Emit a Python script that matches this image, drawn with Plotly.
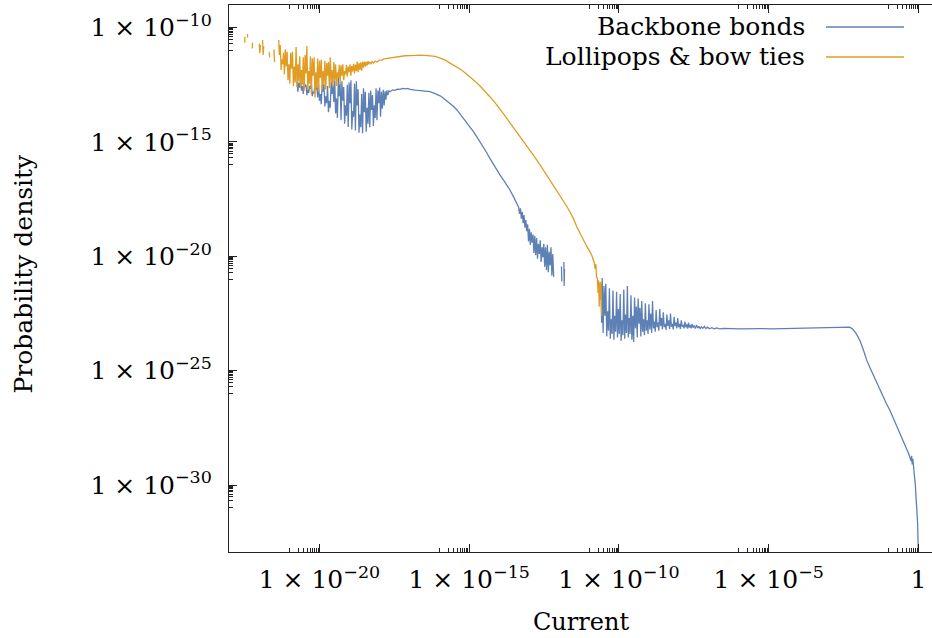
import plotly.graph_objects as go

# ---- data: (log10 current, log10 probability density), None = gap in the data ----
backbone_points = [
    (-20.75, -12.35), (-20.72, -12.80), (-20.69, -12.40), (-20.66, -12.62), (-20.63, -12.30), (-20.60, -12.75),
    (-20.57, -12.55), (-20.54, -12.90), (-20.51, -12.38), (-20.48, -12.60), (-20.45, -12.50), (-20.42, -12.95),
    (-20.39, -12.70), (-20.36, -12.85), (-20.33, -12.55), (-20.30, -12.68), (-20.27, -12.45), (-20.24, -13.00),
    (-20.21, -12.80), (-20.18, -12.88), (-20.15, -12.42), (-20.12, -12.70), (-20.09, -12.55), (-20.06, -13.05),
    (-20.03, -12.48), (-20.00, -13.20), (-19.97, -12.90), (-19.94, -13.35), (-19.91, -12.50), (-19.88, -12.80),
    (-19.85, -12.45), (-19.82, -13.45), (-19.79, -13.00), (-19.76, -13.30), (-19.73, -12.55), (-19.70, -13.70),
    (-19.67, -13.20), (-19.64, -13.50), (-19.61, -12.35), (-19.58, -12.90), (-19.55, -12.50), (-19.52, -13.25),
    (-19.49, -12.30), (-19.46, -13.75), (-19.43, -13.10), (-19.40, -13.95), (-19.37, -12.20), (-19.34, -13.00),
    (-19.31, -12.45), (-19.28, -14.05), (-19.25, -12.35), (-19.22, -13.20), (-19.19, -12.60), (-19.16, -14.20),
    (-19.13, -13.40), (-19.10, -13.85), (-19.07, -12.50), (-19.04, -14.35), (-19.01, -12.40), (-18.98, -13.30),
    (-18.95, -12.30), (-18.92, -14.45), (-18.89, -13.65), (-18.86, -13.90), (-18.83, -12.45), (-18.80, -14.50),
    (-18.77, -12.35), (-18.74, -13.40), (-18.71, -12.70), (-18.68, -14.60), (-18.65, -13.80), (-18.62, -14.35),
    (-18.59, -12.90), (-18.56, -14.62), (-18.53, -12.65), (-18.50, -13.70), (-18.47, -12.80), (-18.44, -14.55),
    (-18.41, -13.50), (-18.38, -14.20), (-18.35, -12.85), (-18.32, -14.35), (-18.29, -12.75), (-18.26, -13.60),
    (-18.23, -12.95), (-18.20, -14.30), (-18.17, -13.40), (-18.14, -13.95), (-18.11, -12.65), (-18.08, -14.05),
    (-18.05, -12.75), (-18.02, -13.30), (-17.99, -12.62), (-17.96, -13.90), (-17.93, -12.80), (-17.90, -13.55),
    (-17.87, -12.72), (-17.84, -13.40), (-17.81, -12.78), (-17.78, -13.15), (-17.75, -12.74), (-17.72, -12.95),
    (-17.68, -12.76), (-17.64, -12.80), (-17.56, -12.72), (-17.48, -12.74), (-17.40, -12.69), (-17.31, -12.70),
    (-17.22, -12.66), (-17.14, -12.68), (-17.06, -12.66), (-16.97, -12.70), (-16.80, -12.73), (-16.64, -12.75),
    (-16.47, -12.77), (-16.31, -12.80), (-16.20, -12.85), (-16.08, -12.90), (-15.97, -12.98), (-15.86, -13.09),
    (-15.75, -13.20), (-15.64, -13.31), (-15.52, -13.45), (-15.41, -13.60), (-15.30, -13.78), (-15.19, -13.97),
    (-15.08, -14.15), (-14.97, -14.33), (-14.86, -14.55), (-14.75, -14.77), (-14.64, -14.99), (-14.53, -15.21),
    (-14.42, -15.46), (-14.31, -15.72), (-14.20, -15.97), (-14.08, -16.23), (-13.97, -16.45), (-13.86, -16.66),
    (-13.75, -16.88), (-13.64, -17.10), (-13.52, -17.40), (-13.41, -17.68),
    (-13.35, -17.85), (-13.32, -18.15), (-13.29, -17.90), (-13.26, -18.35), (-13.23, -18.05), (-13.20, -18.55),
    (-13.17, -18.20), (-13.14, -18.75), (-13.11, -18.40), (-13.08, -18.90), (-13.05, -18.60), (-13.02, -19.35),
    (-12.99, -18.80), (-12.96, -19.50), (-12.93, -18.95), (-12.90, -19.40), (-12.87, -19.05), (-12.84, -19.85),
    (-12.81, -19.10), (-12.78, -19.95), (-12.75, -19.20), (-12.72, -20.10), (-12.69, -19.45), (-12.66, -19.90),
    (-12.63, -19.30), (-12.60, -20.25), (-12.57, -19.60), (-12.54, -20.05), (-12.51, -19.45), (-12.48, -20.45),
    (-12.45, -19.60), (-12.42, -20.60), (-12.39, -19.50), (-12.36, -20.70), (-12.33, -19.80), (-12.30, -20.40),
    (-12.27, -19.60), (-12.24, -20.85), (-12.21, -19.90), (-12.18, -20.90), None,
    (-11.92, -20.45), (-11.91, -21.10), None,
    (-11.84, -20.25), (-11.83, -21.30), (-11.82, -20.55), None,
    (-10.60, -21.20), (-10.58, -22.90), (-10.56, -20.95), (-10.53, -23.35), (-10.50, -21.30), (-10.47, -22.60),
    (-10.44, -21.20), (-10.41, -23.50), (-10.38, -22.40), (-10.35, -23.25), (-10.32, -21.40), (-10.29, -23.60),
    (-10.26, -22.75), (-10.23, -23.40), (-10.20, -21.50), (-10.17, -23.65), (-10.14, -22.60), (-10.11, -23.30),
    (-10.08, -21.55), (-10.05, -23.55), (-10.02, -22.30), (-9.99, -23.40), (-9.96, -21.65), (-9.93, -23.70),
    (-9.90, -22.80), (-9.87, -23.45), (-9.84, -21.45), (-9.81, -23.60), (-9.78, -22.55), (-9.75, -23.35),
    (-9.72, -21.30), (-9.69, -23.55), (-9.66, -22.70), (-9.63, -23.40), (-9.60, -21.70), (-9.57, -23.65),
    (-9.54, -22.60), (-9.51, -23.75), (-9.48, -21.80), (-9.45, -23.15), (-9.42, -22.20), (-9.39, -23.55),
    (-9.36, -21.85), (-9.33, -22.95), (-9.30, -22.25), (-9.27, -23.50), (-9.24, -21.95), (-9.21, -23.30),
    (-9.18, -22.75), (-9.15, -23.45), (-9.12, -22.05), (-9.09, -23.25), (-9.06, -22.80), (-9.03, -23.40),
    (-9.00, -22.10), (-8.97, -23.20), (-8.94, -22.50), (-8.91, -23.35), (-8.88, -21.95), (-8.85, -23.15),
    (-8.82, -22.85), (-8.79, -23.30), (-8.76, -22.35), (-8.73, -23.10), (-8.70, -22.90), (-8.67, -23.25),
    (-8.64, -22.30), (-8.61, -23.05), (-8.58, -22.70), (-8.55, -23.20), (-8.52, -22.45), (-8.49, -23.10),
    (-8.46, -22.95), (-8.43, -23.22), (-8.40, -22.55), (-8.37, -23.05), (-8.34, -22.80), (-8.31, -23.18),
    (-8.28, -22.50), (-8.25, -23.08), (-8.22, -22.95), (-8.19, -23.20), (-8.16, -22.65), (-8.13, -23.05),
    (-8.10, -22.90), (-8.07, -23.15), (-8.04, -22.70), (-8.01, -23.10), (-7.98, -22.95), (-7.95, -23.18),
    (-7.92, -22.80), (-7.89, -23.08), (-7.86, -23.00), (-7.83, -23.15), (-7.80, -22.85), (-7.77, -23.10),
    (-7.74, -22.98), (-7.71, -23.16), (-7.68, -22.90), (-7.65, -23.12), (-7.62, -23.00), (-7.59, -23.15),
    (-7.56, -22.95), (-7.53, -23.12), (-7.49, -23.03), (-7.45, -23.16), (-7.41, -23.00), (-7.37, -23.14),
    (-7.33, -23.06), (-7.29, -23.17), (-7.25, -23.08), (-7.20, -23.15), (-7.15, -23.06), (-7.10, -23.16),
    (-7.04, -23.10), (-6.98, -23.17), (-6.90, -23.12), (-6.82, -23.17), (-6.74, -23.13), (-6.64, -23.17),
    (-6.50, -23.15), (-6.35, -23.17), (-6.20, -23.16), (-6.00, -23.17), (-5.80, -23.16), (-5.50, -23.17),
    (-5.20, -23.16), (-4.90, -23.17), (-4.60, -23.16), (-4.30, -23.16), (-4.00, -23.15), (-3.70, -23.15),
    (-3.40, -23.14), (-3.10, -23.13), (-2.80, -23.12), (-2.55, -23.11), (-2.40, -23.10), (-2.30, -23.10),
    (-2.22, -23.16), (-2.12, -23.30), (-2.03, -23.50), (-1.95, -23.70), (-1.84, -24.10), (-1.73, -24.54),
    (-1.62, -24.87), (-1.51, -25.20), (-1.40, -25.52), (-1.29, -25.85), (-1.18, -26.15), (-1.07, -26.45),
    (-0.96, -26.72), (-0.85, -27.06), (-0.74, -27.40), (-0.62, -27.77), (-0.52, -28.12), (-0.45, -28.30),
    (-0.39, -28.45), (-0.33, -28.62), (-0.28, -28.82), (-0.25, -28.95), (-0.23, -28.72), (-0.21, -29.10),
    (-0.19, -28.85), (-0.17, -29.25), (-0.14, -29.56), (-0.11, -29.93), (-0.08, -30.44), (-0.06, -30.80),
    (-0.04, -31.32), (-0.03, -31.68), (-0.015, -32.54), (-0.005, -33.20),
]

lollipop_points = [
    (-22.49, -10.40), (-22.49, -10.66), None,
    (-22.40, -10.28), (-22.40, -10.43), None,
    (-22.24, -10.66), (-22.24, -10.91), None,
    (-22.01, -10.69), (-21.99, -11.12), (-21.97, -10.76), None,
    (-21.90, -10.54), (-21.88, -11.20), (-21.86, -10.80), None,
    (-21.68, -11.07), (-21.66, -11.29), None,
    (-21.52, -10.95), (-21.50, -11.50), None,
    (-21.36, -10.54), (-21.34, -11.20), (-21.31, -10.76), (-21.28, -11.85), (-21.26, -11.40), (-21.23, -11.60),
    (-21.20, -11.10), (-21.17, -12.05), (-21.14, -10.95), (-21.11, -11.70), (-21.08, -11.05), (-21.05, -12.30),
    (-21.02, -11.60), (-20.99, -12.45), (-20.96, -11.10), (-20.93, -11.80), (-20.90, -11.05), (-20.87, -12.55),
    (-20.84, -11.70), (-20.81, -12.40), (-20.78, -10.85), (-20.75, -12.60), (-20.72, -11.60), (-20.69, -12.35),
    (-20.66, -11.25), (-20.63, -12.65), (-20.60, -11.85), (-20.57, -12.50), (-20.54, -11.30), (-20.51, -12.75),
    (-20.48, -11.20), (-20.45, -12.00), (-20.42, -10.80), (-20.39, -12.70), (-20.36, -11.90), (-20.33, -12.45),
    (-20.30, -11.25), (-20.27, -12.90), (-20.24, -11.35), (-20.21, -12.10), (-20.18, -11.30), (-20.15, -13.05),
    (-20.12, -11.95), (-20.09, -12.65), (-20.06, -11.35), (-20.03, -12.80), (-20.00, -11.45), (-19.97, -12.20),
    (-19.94, -11.40), (-19.91, -12.75), (-19.88, -11.90), (-19.85, -12.45), (-19.82, -11.45), (-19.79, -12.70),
    (-19.76, -11.55), (-19.73, -12.10), (-19.70, -11.50), (-19.67, -12.65), (-19.64, -11.30), (-19.61, -12.35),
    (-19.58, -11.85), (-19.55, -12.60), (-19.52, -11.50), (-19.49, -12.30), (-19.46, -11.60), (-19.43, -12.55),
    (-19.40, -11.95), (-19.37, -12.20), (-19.34, -11.62), (-19.31, -12.45), (-19.28, -11.65), (-19.25, -12.10),
    (-19.22, -11.60), (-19.19, -12.30), (-19.16, -11.90), (-19.13, -12.05), (-19.10, -11.62), (-19.07, -12.15),
    (-19.04, -11.70), (-19.01, -11.95), (-18.98, -11.60), (-18.95, -12.10), (-18.92, -11.68), (-18.89, -11.92),
    (-18.86, -11.58), (-18.83, -12.00), (-18.80, -11.62), (-18.77, -11.90), (-18.74, -11.48), (-18.71, -11.95),
    (-18.68, -11.55), (-18.65, -11.85), (-18.62, -11.52), (-18.59, -11.88), (-18.56, -11.50), (-18.53, -11.75),
    (-18.50, -11.48), (-18.47, -11.70), (-18.44, -11.50), (-18.41, -11.66), (-18.38, -11.46), (-18.35, -11.60),
    (-18.32, -11.50), (-18.28, -11.58), (-18.24, -11.48), (-18.20, -11.55), (-18.14, -11.47), (-18.08, -11.50),
    (-18.00, -11.42), (-17.92, -11.42), (-17.85, -11.37), (-17.74, -11.35), (-17.64, -11.31), (-17.54, -11.29),
    (-17.42, -11.26), (-17.31, -11.24), (-17.14, -11.23), (-16.97, -11.22), (-16.80, -11.20), (-16.64, -11.20),
    (-16.47, -11.21), (-16.31, -11.23), (-16.14, -11.26), (-15.97, -11.33), (-15.80, -11.42), (-15.64, -11.55),
    (-15.47, -11.67), (-15.31, -11.81), (-15.14, -11.97), (-14.97, -12.15), (-14.81, -12.34), (-14.64, -12.55),
    (-14.47, -12.78), (-14.31, -13.02), (-14.14, -13.28), (-13.97, -13.55), (-13.81, -13.85), (-13.64, -14.16),
    (-13.47, -14.46), (-13.30, -14.77), (-13.14, -15.06), (-12.97, -15.35), (-12.80, -15.68), (-12.63, -16.01),
    (-12.47, -16.33), (-12.30, -16.66), (-12.19, -16.88), (-12.08, -17.10), (-11.97, -17.32), (-11.86, -17.54),
    (-11.75, -17.80), (-11.64, -18.05), (-11.52, -18.35), (-11.41, -18.71), (-11.32, -18.95), (-11.24, -19.14),
    (-11.15, -19.38), (-11.07, -19.58), (-10.99, -19.75), (-10.91, -19.95), (-10.86, -20.15), (-10.82, -20.30),
    (-10.80, -20.55), (-10.77, -20.35), (-10.75, -20.90), (-10.72, -20.95), (-10.70, -21.60), (-10.68, -21.05),
    (-10.66, -22.20), (-10.64, -21.15), (-10.62, -21.90), (-10.60, -21.10), (-10.58, -22.60),
]

series_names = ["Backbone bonds", "Lollipops & bow ties"]
series_colors = ["#5E81B5", "#E19C24"]
x_tick_exponents = [-20, -15, -10, -5, 0]
y_tick_exponents = [-30, -25, -20, -15, -10]
x_title = "Current"
y_title = "Probability density"


def unzip(points):
    xs, ys = [], []
    for p in points:
        if p is None:
            xs.append(None)
            ys.append(None)
        else:
            xs.append(10 ** p[0])
            ys.append(10 ** p[1])
    return xs, ys


def tick_label(e):
    if e == 0:
        return "1"
    return "1 × 10<sup>\u2212%d</sup>" % (-e)


def minor_vals(exps):
    return [k * 10.0 ** (e - 1) for e in exps for k in range(1, 10)]


FONT = "DejaVu Serif"
AXCOL = "#222222"
FS = 25

fig = go.Figure()
for pts, name, col in zip([backbone_points, lollipop_points], series_names, series_colors):
    xs, ys = unzip(pts)
    fig.add_trace(go.Scatter(x=xs, y=ys, mode="lines", name=name,
                             line=dict(color=col, width=1.3), connectgaps=False))

fig.update_layout(
    width=932, height=638,
    margin=dict(l=229, r=0, t=5, b=86),
    paper_bgcolor="white", plot_bgcolor="white",
    showlegend=False,
    font=dict(family=FONT, size=FS, color="black"),
)
fig.update_xaxes(
    type="log", range=[-23.02, 0.45],
    showgrid=False, zeroline=False,
    showline=True, linecolor=AXCOL, linewidth=1.2, mirror="ticks",
    ticks="inside", ticklen=8, tickwidth=1, tickcolor=AXCOL,
    tickmode="array", tickvals=[10.0 ** e for e in x_tick_exponents],
    ticktext=[tick_label(e) for e in x_tick_exponents],
    tickfont=dict(family=FONT, size=FS, color="black"),
    ticklabelstandoff=5,
    minor=dict(tickmode="array", tickvals=minor_vals(x_tick_exponents), ticks="inside",
               ticklen=4, tickwidth=1, tickcolor=AXCOL, showgrid=False),
)
fig.update_yaxes(
    type="log", range=[-32.93, -9.01],
    showgrid=False, zeroline=False,
    showline=True, linecolor=AXCOL, linewidth=1.2, mirror=False,
    ticks="inside", ticklen=8, tickwidth=1, tickcolor=AXCOL,
    tickmode="array", tickvals=[10.0 ** e for e in y_tick_exponents],
    ticktext=[tick_label(e) for e in y_tick_exponents],
    tickfont=dict(family=FONT, size=FS, color="black"),
    ticklabelstandoff=11,
    minor=dict(tickmode="array", tickvals=minor_vals(y_tick_exponents), ticks="inside",
               ticklen=4, tickwidth=1, tickcolor=AXCOL, showgrid=False),
)

# axis titles
fig.add_annotation(text=x_title, xref="paper", yref="paper", x=0.5, y=0, yshift=-70,
                   showarrow=False, xanchor="center", yanchor="middle",
                   font=dict(family=FONT, size=24, color="black"))
fig.add_annotation(text=y_title, xref="paper", yref="paper", x=0, y=0.5, xshift=-206, yshift=5,
                   textangle=-90, showarrow=False, xanchor="center", yanchor="middle",
                   font=dict(family=FONT, size=FS, color="black"))

# gnuplot-style legend: text right-aligned, line sample on the right
plot_w = 932 - 229
for i, (name, col) in enumerate(zip(series_names, series_colors)):
    yshift = -(21 + 30 * i)
    fig.add_annotation(text=name, xref="paper", yref="paper", x=1, y=1, xshift=-125, yshift=yshift,
                       showarrow=False, xanchor="right", yanchor="middle",
                       font=dict(family=FONT, size=FS, color="black"))
    ypix = 5 + 22 + 30 * i
    yp = 1 - (ypix - 5) / (552 - 5)
    fig.add_shape(type="line", xref="paper", yref="paper",
                  x0=1 - (932 - 826) / plot_w, x1=1 - (932 - 904) / plot_w, y0=yp, y1=yp,
                  line=dict(color=col, width=1.3))

fig.write_html("out.html")
